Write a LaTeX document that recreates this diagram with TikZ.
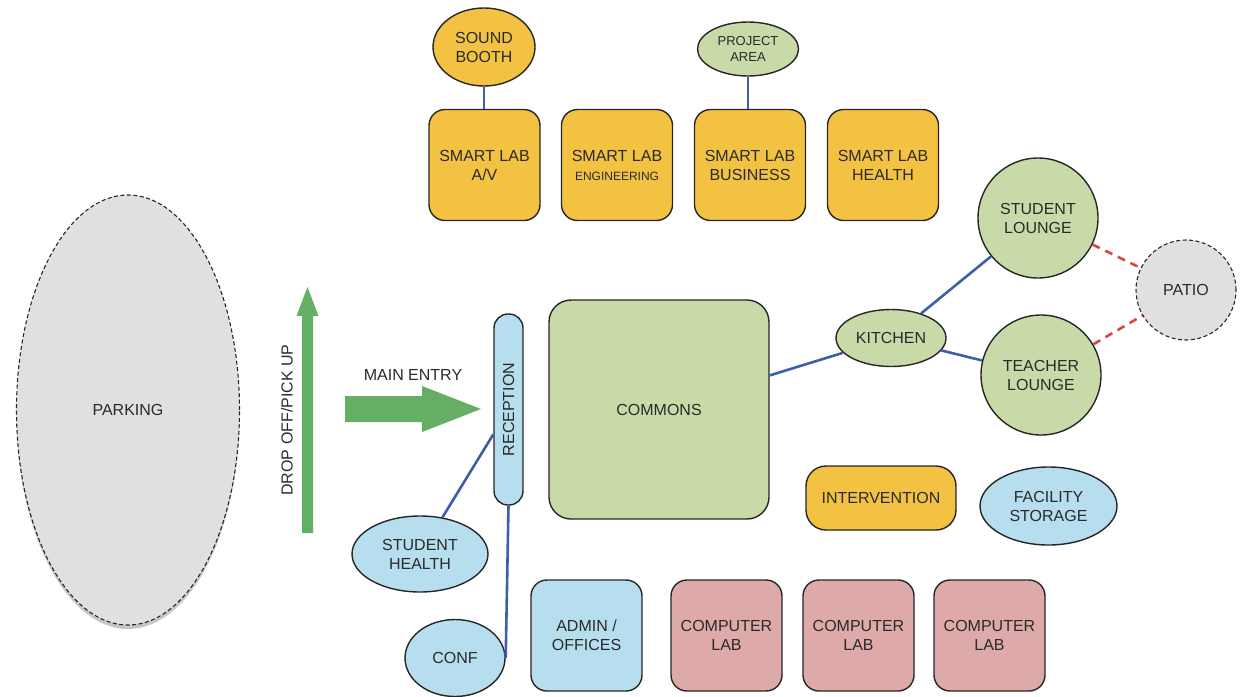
\documentclass[tikz,border=0pt]{standalone}
\usepackage{fontspec}
\setmainfont{Liberation Sans}
\usetikzlibrary{shapes.geometric,shadows}
\definecolor{orng}{HTML}{F3C242}
\definecolor{grn}{HTML}{C9DAA9}
\definecolor{blu}{HTML}{B7DEEE}
\definecolor{pnk}{HTML}{DEAAA9}
\definecolor{gry}{HTML}{E0E0E0}
\definecolor{lnblue}{HTML}{3F5EAA}
\definecolor{lnred}{HTML}{D9493A}
\definecolor{arrgrn}{HTML}{64AF64}
\definecolor{txt}{HTML}{2A2A2A}
\begin{document}
\begin{tikzpicture}[x=1pt,y=-1pt,
  base/.style={draw=black!85, line width=1.4pt, text=txt, font=\fontsize{16}{19}\selectfont, align=center, inner sep=0pt},
  box/.style={base, rectangle, rounded corners=16pt, minimum width=111pt, minimum height=111pt},
  ell/.style={base, ellipse},
  circ/.style={base, circle},
  dashbd/.style={dash pattern=on 4pt off 2.5pt, line width=1.1pt},
  lbl/.style={text=txt, font=\fontsize{16}{19}\selectfont, inner sep=0pt},
  link/.style={draw=lnblue, line width=2.6pt},
  dlink/.style={draw=lnred, line width=2.6pt, dash pattern=on 8pt off 6pt}]
\useasboundingbox (0,0) rectangle (1241,696);

% parking
\node[ell, fill=gry, dashbd, minimum width=223pt, minimum height=430pt,
  drop shadow={shadow xshift=0pt, shadow yshift=-4pt, opacity=0.45}] (parking) at (128,410) {PARKING};

% arrows
\fill[arrgrn] (302,533) -- (302,316) -- (296.5,316) -- (307.5,287) -- (318.5,316) -- (313,316) -- (313,533) -- cycle;
\fill[arrgrn] (345,396) -- (422,396) -- (422,386) -- (481,409) -- (422,432) -- (422,422) -- (345,422) -- cycle;
\node[lbl, rotate=90] (droplbl) at (287,420) {DROP OFF/PICK UP};
\node[lbl] (mainlbl) at (413,375) {MAIN ENTRY};

% top row
\node[ell, fill=orng, minimum width=102pt, minimum height=78pt] (sb) at (484,47) {SOUND\\BOOTH};
\node[ell, fill=grn, minimum width=101pt, minimum height=54pt, font=\fontsize{13}{16}\selectfont] (pa) at (748,49) {PROJECT\\AREA};
\node[box, fill=orng] (av) at (484.5,165) {SMART LAB\\A/V};
\node[box, fill=orng] (eng) at (617,165) {SMART LAB\\{\fontsize{12}{15}\selectfont ENGINEERING}};
\node[box, fill=orng] (biz) at (750,165) {SMART LAB\\BUSINESS};
\node[box, fill=orng] (hlth) at (883,165) {SMART LAB\\HEALTH};

% middle
\node[base, fill=blu, minimum width=29pt, minimum height=191pt, rounded corners=14pt] (rec) at (508.5,409.5) {\rotatebox{90}{RECEPTION}};
\node[base, fill=grn, minimum width=220pt, minimum height=219pt, rounded corners=22pt] (commons) at (659,409.5) {COMMONS};
\node[ell, fill=grn, minimum width=110pt, minimum height=57pt] (kitchen) at (891,338) {KITCHEN};
\node[circ, fill=grn, minimum size=120pt] (sl) at (1038,218) {STUDENT\\LOUNGE};
\node[circ, fill=grn, minimum size=120pt] (tl) at (1041,375) {TEACHER\\LOUNGE};
\node[circ, fill=gry, dashbd, minimum size=100pt] (patio) at (1186,290) {PATIO};
\node[base, fill=orng, rounded corners=20pt, minimum width=150pt, minimum height=64pt] (interv) at (881,498) {INTERVENTION};
\node[ell, fill=blu, minimum width=137pt, minimum height=78pt] (fac) at (1048.5,506) {FACILITY\\STORAGE};

% bottom
\node[ell, fill=blu, minimum width=136pt, minimum height=76pt] (sh) at (420,554) {STUDENT\\HEALTH};
\node[ell, fill=blu, minimum width=100pt, minimum height=77pt] (conf) at (455,658) {CONF};
\node[box, fill=blu] (admin) at (586.5,635.5) {ADMIN /\\OFFICES};
\node[box, fill=pnk] (cl1) at (726.5,635.5) {COMPUTER\\LAB};
\node[box, fill=pnk] (cl2) at (858.5,635.5) {COMPUTER\\LAB};
\node[box, fill=pnk] (cl3) at (989.5,635.5) {COMPUTER\\LAB};

% connectors
\draw[link] (sb.south) -- (sb.south |- av.north);
\draw[link] (pa.south) -- (pa.south |- biz.north);
\draw[link] (commons) -- (kitchen);
\draw[link] (kitchen) -- (sl);
\draw[link] (kitchen) -- (tl);
\draw[dlink] (sl) -- (patio);
\draw[dlink] (tl) -- (patio);
\draw[link] (rec) -- (sh);
\draw[link] (rec.south) -- (conf.east);
\end{tikzpicture}
\end{document}
